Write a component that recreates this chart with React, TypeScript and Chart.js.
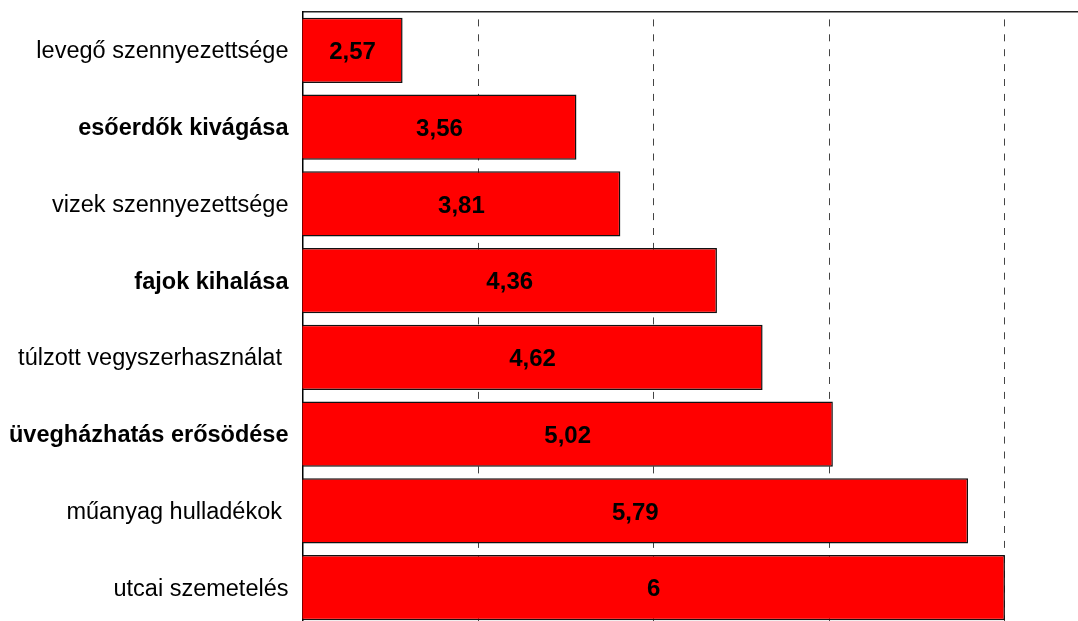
import React, { useEffect, useRef } from "react";
import { Chart, registerables } from "chart.js";

Chart.register(...registerables);

const categories = [
  "levegő szennyezettsége",
  "esőerdők kivágása",
  "vizek szennyezettsége",
  "fajok kihalása",
  "túlzott vegyszerhasználat ",
  "üvegházhatás erősödése",
  "műanyag hulladékok ",
  "utcai szemetelés",
];
const values = [2.57, 3.56, 3.81, 4.36, 4.62, 5.02, 5.79, 6];
const boldRows = [false, true, false, true, false, true, false, false];
const xMin = 2;
const xMax = 6.416;
const xStep = 1;

const FONT = '"Liberation Sans", Arial, Helvetica, sans-serif';

const valueLabels = {
  id: "valueLabels",
  afterDatasetsDraw(chart: any) {
    const ctx = chart.ctx;
    const meta = chart.getDatasetMeta(0);
    const left = chart.chartArea.left;
    ctx.save();
    ctx.font = `bold 24px ${FONT}`;
    ctx.fillStyle = "#000";
    ctx.textAlign = "center";
    ctx.textBaseline = "middle";
    meta.data.forEach((bar: any, i: number) => {
      const p = bar.getProps(["x", "y", "base"], true);
      const start = Math.max(p.base, left);
      ctx.fillText(String(values[i]).replace(".", ","), (p.x + start) / 2, p.y + 2);
    });
    ctx.restore();
  },
};

export default function App() {
  const ref = useRef<HTMLCanvasElement>(null);
  useEffect(() => {
    if (!ref.current) return;
    const chart = new Chart(ref.current, {
      type: "bar",
      data: {
        labels: categories,
        datasets: [
          {
            data: values,
            backgroundColor: "#ff0000",
            borderColor: "#111",
            borderWidth: 1.5,
            borderSkipped: false,
            barPercentage: 0.848,
            categoryPercentage: 1,
          },
        ],
      },
      options: {
        indexAxis: "y",
        animation: false,
        responsive: false,
        devicePixelRatio: 1,
        layout: { padding: { top: 12, bottom: 2, left: 0, right: 0 } },
        plugins: {
          legend: { display: false },
          tooltip: { enabled: false },
          title: { display: false },
        },
        scales: {
          x: {
            type: "linear",
            position: "top",
            min: xMin,
            max: xMax,
            ticks: { display: false, stepSize: xStep, includeBounds: false },
            grid: {
              display: true,
              drawTicks: false,
              color: (c: any) => (c.tick && c.tick.value === xMin ? "rgba(0,0,0,0)" : "#444"),
              lineWidth: 1,
            },
            border: {
              display: true,
              color: "#222",
              width: 1.5,
              dash: [7, 7.9],
              dashOffset: 8,
            },
            afterFit: (scale: any) => {
              scale.height = 0;
              scale.paddingLeft = 0;
              scale.paddingRight = 0;
            },
          },
          y: {
            type: "category",
            position: "left",
            grid: { display: false, drawTicks: false },
            border: { display: true, color: "#000", width: 1.5 },
            ticks: {
              padding: 14,
              labelOffset: 1.5,
              color: "#000",
              font: (c: any) => ({
                family: FONT,
                size: 23.5,
                weight: boldRows[c.index] ? "bold" : "normal",
              }),
            },
            afterFit: (scale: any) => {
              scale.width = 302.5;
              scale.paddingTop = 0;
              scale.paddingBottom = 0;
            },
          },
        },
      },
      plugins: [valueLabels],
    });
    return () => chart.destroy();
  }, []);

  return (
    <div
      style={{
        position: "fixed",
        left: 0,
        top: 0,
        width: 1078,
        height: 621,
        overflow: "hidden",
        background: "#fff",
      }}
    >
      <canvas ref={ref} width={1078} height={628} style={{ display: "block" }} />
    </div>
  );
}
